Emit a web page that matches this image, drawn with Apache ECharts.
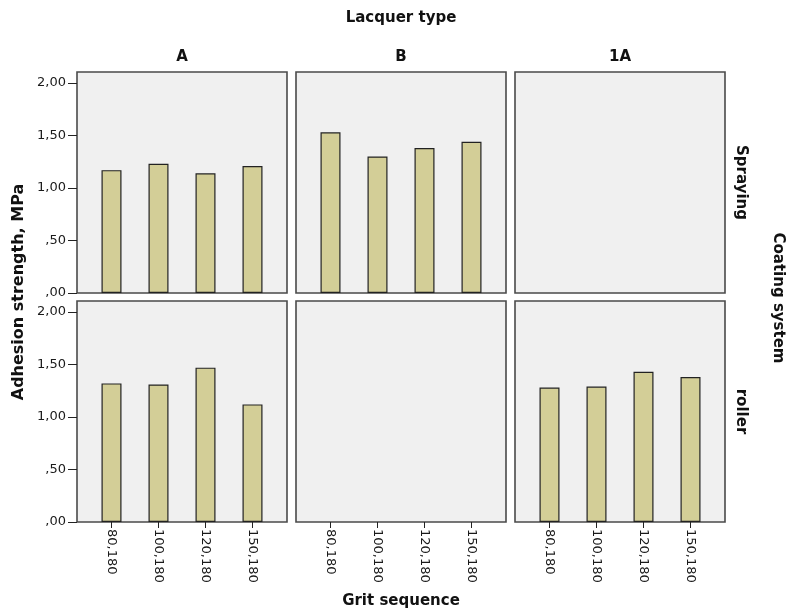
<!DOCTYPE html>
<html>
<head>
<meta charset="utf-8">
<script src="https://cdn.jsdelivr.net/npm/echarts@6/dist/echarts.min.js"></script>
<style>
html,body{margin:0;padding:0;background:#fff;}
#chart{width:786px;height:611px;}
</style>
</head>
<body>
<div id="chart"></div>
<script>
// ---- data ----
const categories = ['80,180', '100,180', '120,180', '150,180'];
const lacquerTypes = ['A', 'B', '1A'];
const coatingSystems = ['Spraying', 'roller'];
const sprayingA = [1.17, 1.23, 1.14, 1.21];
const sprayingB = [1.53, 1.30, 1.38, 1.44];
const spraying1A = [];
const rollerA = [1.32, 1.31, 1.47, 1.12];
const rollerB = [];
const roller1A = [1.28, 1.29, 1.43, 1.38];
const yTicks = [0, 0.5, 1, 1.5, 2];
const yTickLabels = [',00', ',50', '1,00', '1,50', '2,00'];

// ---- layout ----
const colLeft = [77, 296, 515];
const rowTop = [72, 301];
const panelW = 210, panelH = 221;
const values = [[sprayingA, sprayingB, spraying1A], [rollerA, rollerB, roller1A]];

const FONT = '"DejaVu Sans", sans-serif';
const grids = [], xAxes = [], yAxes = [], series = [];
let idx = 0;
for (let r = 0; r < 2; r++) {
  for (let c = 0; c < 3; c++) {
    grids.push({
      left: colLeft[c], top: rowTop[r], width: panelW, height: panelH,
      show: true, backgroundColor: '#f0f0f0', borderColor: '#4a4a4a', borderWidth: 1.6,
      containLabel: false
    });
    const bottomRow = r === 1;
    xAxes.push({
      type: 'value', gridIndex: idx, min: -0.734, max: 3.734, position: 'bottom',
      axisLine: { show: false, onZero: false },
      splitLine: { show: false },
      axisTick: { show: bottomRow, customValues: [0, 1, 2, 3], length: 6, lineStyle: { color: '#222' } },
      axisLabel: {
        show: bottomRow, customValues: [0, 1, 2, 3], rotate: -90, margin: 7,
        fontFamily: FONT, fontSize: 13, color: '#1a1a1a',
        formatter: v => categories[Math.round(v)]
      }
    });
    const leftCol = c === 0;
    yAxes.push({
      type: 'value', gridIndex: idx, min: 0, max: 2.105, position: 'left',
      axisLine: { show: false, onZero: false },
      splitLine: { show: false },
      axisTick: { show: leftCol, customValues: yTicks, length: 9, lineStyle: { color: '#222' } },
      axisLabel: {
        show: leftCol, customValues: yTicks, margin: 11,
        fontFamily: FONT, fontSize: 13, color: '#1a1a1a',
        formatter: v => yTickLabels[yTicks.indexOf(v)] !== undefined ? yTickLabels[yTicks.indexOf(v)] : ''
      }
    });
    series.push({
      type: 'bar', xAxisIndex: idx, yAxisIndex: idx,
      barWidth: 20,
      itemStyle: { color: '#d3ce97', borderColor: '#222', borderWidth: 1.2 },
      data: values[r][c].map((v, j) => [j, v]),
      silent: true
    });
    idx++;
  }
}

const graphics = [];
function txt(text, x, y, rot, size) {
  graphics.push({
    type: 'text', x: x, y: y, rotation: rot || 0,
    style: { text: text, font: 'bold ' + (size || 15) + 'px ' + FONT, fill: '#111',
             align: 'center', verticalAlign: 'middle',
             textAlign: 'center', textVerticalAlign: 'middle' }
  });
}
txt('Lacquer type', 401, 18);
lacquerTypes.forEach((t, c) => txt(t, colLeft[c] + panelW / 2, 57));
coatingSystems.forEach((t, r) => txt(t, 741, rowTop[r] + panelH / 2, -Math.PI / 2));
txt('Coating system', 778, 298, -Math.PI / 2);
txt('Adhesion strength, MPa', 19, 292, Math.PI / 2, 16);
txt('Grit sequence', 401, 601);

const chart = echarts.init(document.getElementById('chart'), null, { renderer: 'canvas' });
chart.setOption({
  animation: false,
  backgroundColor: '#ffffff',
  grid: grids,
  xAxis: xAxes,
  yAxis: yAxes,
  series: series,
  graphic: graphics
});
</script>
</body>
</html>
